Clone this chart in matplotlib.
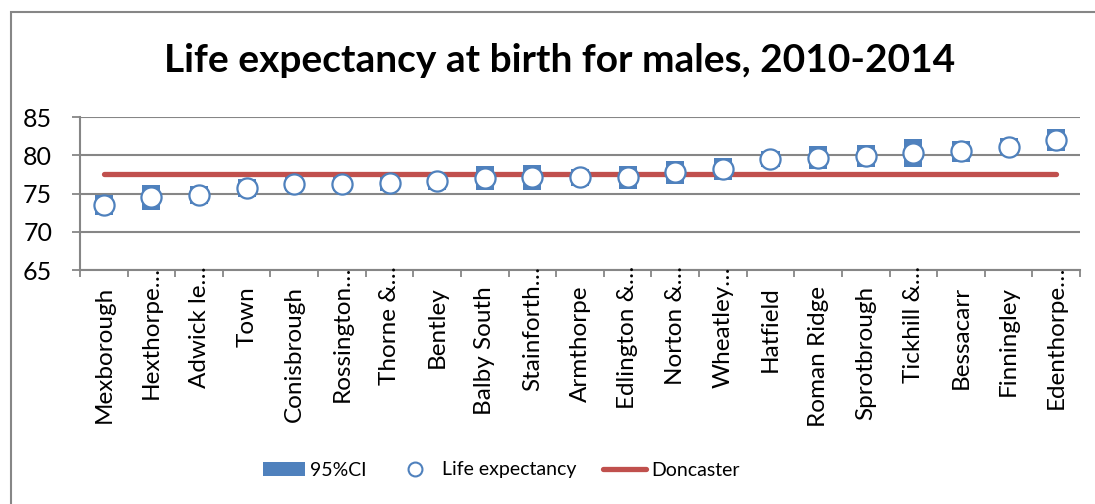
import matplotlib
matplotlib.use("Agg")
import matplotlib.pyplot as plt
from matplotlib.patches import Patch, Rectangle
from matplotlib.lines import Line2D
from matplotlib.transforms import blended_transform_factory, ScaledTranslation
import numpy as np

plt.rcParams['font.family'] = ['Lato', 'DejaVu Sans']

wards = ["Mexborough", "Hexthorpe…", "Adwick le…", "Town", "Conisbrough",
         "Rossington…", "Thorne &…", "Bentley", "Balby South", "Stainforth…",
         "Armthorpe", "Edlington &…", "Norton &…", "Wheatley…", "Hatfield",
         "Roman Ridge", "Sprotbrough", "Tickhill &…", "Bessacarr", "Finningley",
         "Edenthorpe…"]
life_exp = [73.5, 74.5, 74.8, 75.7, 76.3, 76.3, 76.4, 76.6, 77.0, 77.1,
            77.1, 77.1, 77.8, 78.2, 79.5, 79.7, 79.9, 80.3, 80.5, 81.1, 82.0]
ci_lower = [72.2, 72.9, 73.6, 74.5, 75.3, 75.3, 75.3, 75.5, 75.4, 75.5,
            76.0, 75.6, 76.3, 76.8, 78.5, 78.25, 78.45, 78.5, 79.15, 80.0, 80.6]
ci_upper = [74.8, 76.1, 76.0, 76.9, 77.3, 77.3, 77.5, 77.7, 78.6, 78.7,
            78.2, 78.6, 79.3, 79.6, 80.5, 81.15, 81.35, 82.1, 81.85, 82.2, 83.4]
doncaster = 77.5
y_ticks = [65, 70, 75, 80, 85]

BLUE = "#4F81BD"
RED = "#C0504D"
GRID = "#868686"

W, H = 1095, 504
fig = plt.figure(figsize=(W / 100, H / 100), dpi=100)
fig.patch.set_facecolor("white")

# chart-area frame
fig.add_artist(Rectangle((11 / W, -0.1), 1.2, (H - 12) / H + 0.1,
                         transform=fig.transFigure, fill=False,
                         edgecolor=GRID, linewidth=1.5))

ax = fig.add_axes([80 / W, (H - 270) / H, 1000 / W, 153 / H])
n = len(wards)
x = np.arange(n)

lo = np.array(ci_lower)
hi = np.array(ci_upper)
ax.bar(x, hi - lo, bottom=lo, width=0.38, color=BLUE, zorder=3)
ax.plot([x[0], x[-1]], [doncaster, doncaster], color=RED, linewidth=3.8,
        solid_capstyle="round", zorder=4)
ax.plot(x, life_exp, linestyle="none", marker="o", markersize=14.5,
        markerfacecolor="white", markeredgecolor=BLUE, markeredgewidth=1.6,
        zorder=5)

ax.set_xlim(-0.5, n - 0.5)
ax.set_ylim(65, 85)
ax.set_yticks(y_ticks)
ax.tick_params(axis="y", length=6, width=1.3, color=GRID, labelsize=18,
               pad=14)
ax.yaxis.grid(True, color=GRID, linewidth=1.5, zorder=0)
ax.set_axisbelow(True)

ax.set_xticks(np.arange(n + 1) - 0.5)
ax.set_xticklabels([])
ax.tick_params(axis="x", length=5, width=1.3, color=GRID)

for s in ["top", "right"]:
    ax.spines[s].set_visible(False)
for s in ["left", "bottom"]:
    ax.spines[s].set_color(GRID)
    ax.spines[s].set_linewidth(1.5)

# category labels, rotated and anchored to the axis; truncated names
# let their ellipsis run up towards the axis
trans = blended_transform_factory(ax.transData, ax.transAxes)
for i, name in enumerate(wards):
    shift_px = 16 if not name.endswith("…") else -4
    t = trans + ScaledTranslation(0, -shift_px / 100, fig.dpi_scale_trans)
    ax.text(i, 0, name, rotation=90, ha="center", va="top",
            fontsize=17.5, transform=t)

fig.text(560 / W, (H - 72) / H, "Life expectancy at birth for males, 2010-2014",
         ha="center", va="baseline", fontsize=28, fontweight="bold")

handles = [Patch(facecolor=BLUE, edgecolor="none"),
           Line2D([], [], linestyle="none", marker="o", markersize=10,
                  markerfacecolor="white", markeredgecolor=BLUE,
                  markeredgewidth=1.5),
           Line2D([], [], color=RED, linewidth=3.8, solid_capstyle="round")]
fig.legend(handles, ["95%CI", "Life expectancy", "Doncaster"], ncol=3,
           loc="center", bbox_to_anchor=(501 / W, (H - 470) / H),
           frameon=False, fontsize=14, handlelength=2.2, handleheight=0.75,
           handletextpad=0.25, columnspacing=1.4)

fig.savefig("out.png", dpi=100)
